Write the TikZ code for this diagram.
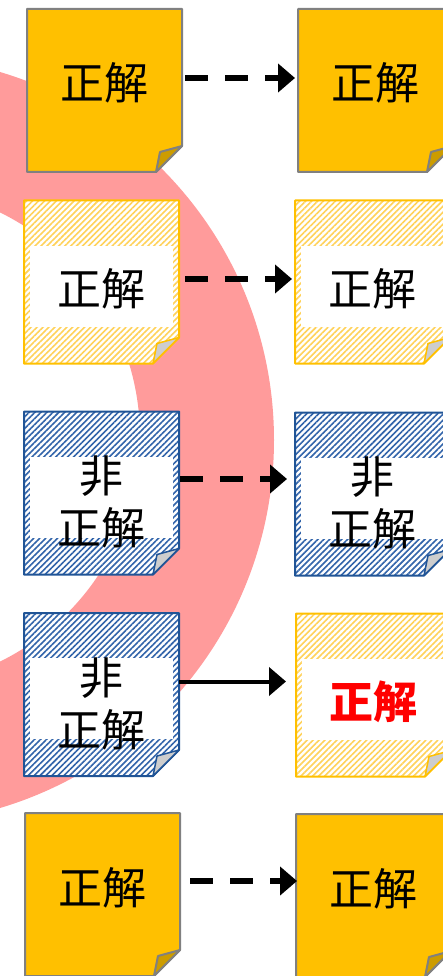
\documentclass[tikz,border=0pt]{standalone}
\usepackage{fontspec}
\newfontfamily\jp{Noto Sans CJK JP}
\usetikzlibrary{patterns.meta,arrows.meta}
\definecolor{pinkring}{RGB}{255,155,155}
\definecolor{goldfill}{RGB}{255,192,0}
\definecolor{golddark}{RGB}{204,156,0}
\definecolor{edgegray}{RGB}{128,128,128}
\definecolor{yedge}{RGB}{255,192,0}
\definecolor{yhatch}{RGB}{255,210,90}
\definecolor{bedge}{RGB}{32,84,150}
\definecolor{bhatch}{RGB}{50,100,170}
\definecolor{foldgray}{RGB}{205,205,205}
\definecolor{redtext}{RGB}{255,0,0}

\tikzset{
  notebox/.style={draw=none, inner sep=0pt, outer sep=0pt, minimum width=155pt, minimum height=163pt},
  notetext/.style={inner sep=0pt, font=\jp\fontsize{44}{52}\selectfont, align=center, text=black},
  dasharrow/.style={line width=6pt, dash pattern=on 23pt off 17pt, -{Triangle[length=17pt,width=28pt]}},
  solidarrow/.style={line width=4pt, -{Triangle[length=17pt,width=28pt]}},
}

\newcommand\goldnote[1]{%
  \filldraw[fill=goldfill, draw=edgegray, line width=2pt, line join=round]
    (#1.north west) -- (#1.north east) -- ([yshift=26pt]#1.south east)
    -- ([xshift=-26pt]#1.south east) -- (#1.south west) -- cycle;
  \filldraw[fill=golddark, draw=edgegray, line width=2pt, line join=round]
    ([yshift=26pt]#1.south east) -- ([xshift=-22pt,yshift=20pt]#1.south east)
    -- ([xshift=-26pt]#1.south east) -- cycle;
}

\newcommand\hatchnote[3]{%
  \fill[white]
    (#1.north west) -- (#1.north east) -- ([yshift=26pt]#1.south east)
    -- ([xshift=-26pt]#1.south east) -- (#1.south west) -- cycle;
  \fill[pattern={Lines[angle=45,distance=4.2pt,line width=1.6pt]}, pattern color=#3]
    (#1.north west) -- (#1.north east) -- ([yshift=26pt]#1.south east)
    -- ([xshift=-26pt]#1.south east) -- (#1.south west) -- cycle;
  \fill[white] ([xshift=6pt,yshift=-45pt]#1.north west) rectangle ([xshift=-6pt,yshift=-126pt]#1.north east);
  \draw[draw=#2, line width=2pt, line join=round]
    (#1.north west) -- (#1.north east) -- ([yshift=26pt]#1.south east)
    -- ([xshift=-26pt]#1.south east) -- (#1.south west) -- cycle;
  \filldraw[fill=foldgray, draw=#2, line width=1.5pt, line join=round]
    ([yshift=26pt]#1.south east) -- ([xshift=-22pt,yshift=20pt]#1.south east)
    -- ([xshift=-26pt]#1.south east) -- cycle;
}

\begin{document}
\begin{tikzpicture}[x=1pt, y=-1pt]
  \path[use as bounding box] (0,0) rectangle (443,976);
  \clip (0,0) rectangle (443,976);

  % pink ring
  \fill[pinkring, even odd rule] (-110,440) circle[radius=384pt] (-110,437) circle[radius=250pt];

  % row 1
  \node[notebox] (L1) at (104.5,90.5) {};
  \goldnote{L1}
  \node[notetext] (L1t) at ([yshift=8pt]L1.center) {正解};
  \node[notebox] (R1) at (375.5,90.5) {};
  \goldnote{R1}
  \node[notetext] (R1t) at ([yshift=8pt]R1.center) {正解};

  % row 2
  \node[notebox] (L2) at (101.5,282) {};
  \hatchnote{L2}{yedge}{yhatch}
  \node[notetext] (L2t) at ([yshift=-7pt]L2.center) {正解};
  \node[notebox] (R2) at (372.5,282) {};
  \hatchnote{R2}{yedge}{yhatch}
  \node[notetext] (R2t) at ([yshift=-7pt]R2.center) {正解};

  % row 3
  \node[notebox] (L3) at (101.5,493) {};
  \hatchnote{L3}{bedge}{bhatch}
  \node[notetext] (L3t) at ([yshift=-9pt]L3.center) {非\\正解};
  \node[notebox] (R3) at (372.5,494) {};
  \hatchnote{R3}{bedge}{bhatch}
  \node[notetext] (R3t) at ([yshift=-9pt]R3.center) {非\\正解};

  % row 4
  \node[notebox] (L4) at (101.5,694.5) {};
  \hatchnote{L4}{bedge}{bhatch}
  \node[notetext] (L4t) at ([yshift=-9pt]L4.center) {非\\正解};
  \node[notebox] (R4) at (373.5,695) {};
  \hatchnote{R4}{yedge}{yhatch}
  \node[notetext, text=redtext, font=\jp\bfseries\fontsize{44}{52}\selectfont] (R4t) at ([yshift=-7pt]R4.center) {正解};

  % row 5
  \node[notebox] (L5) at (102.5,894.5) {};
  \goldnote{L5}
  \node[notetext] (L5t) at ([yshift=7pt]L5.center) {正解};
  \node[notebox] (R5) at (373.5,895.5) {};
  \goldnote{R5}
  \node[notetext] (R5t) at ([yshift=7pt]R5.center) {正解};

  % arrows
  \draw[dasharrow] ([xshift=3pt,yshift=12.5pt]L1.east) -- ([xshift=-3pt,yshift=12.5pt]R1.west);
  \draw[dasharrow] ([xshift=6pt,yshift=3pt]L2.east) -- ([xshift=-3pt,yshift=3pt]R2.west);
  \draw[dasharrow] ([xshift=1pt,yshift=14pt]L3.east) -- ([xshift=-8pt,yshift=15pt]R3.west);
  \draw[solidarrow] ([xshift=0pt,yshift=13pt]L4.east) -- ([xshift=-10pt,yshift=13.5pt]R4.west);
  \draw[dasharrow] ([xshift=10pt,yshift=13.5pt]L5.east) -- ([xshift=1pt,yshift=14.5pt]R5.west);
\end{tikzpicture}
\end{document}
